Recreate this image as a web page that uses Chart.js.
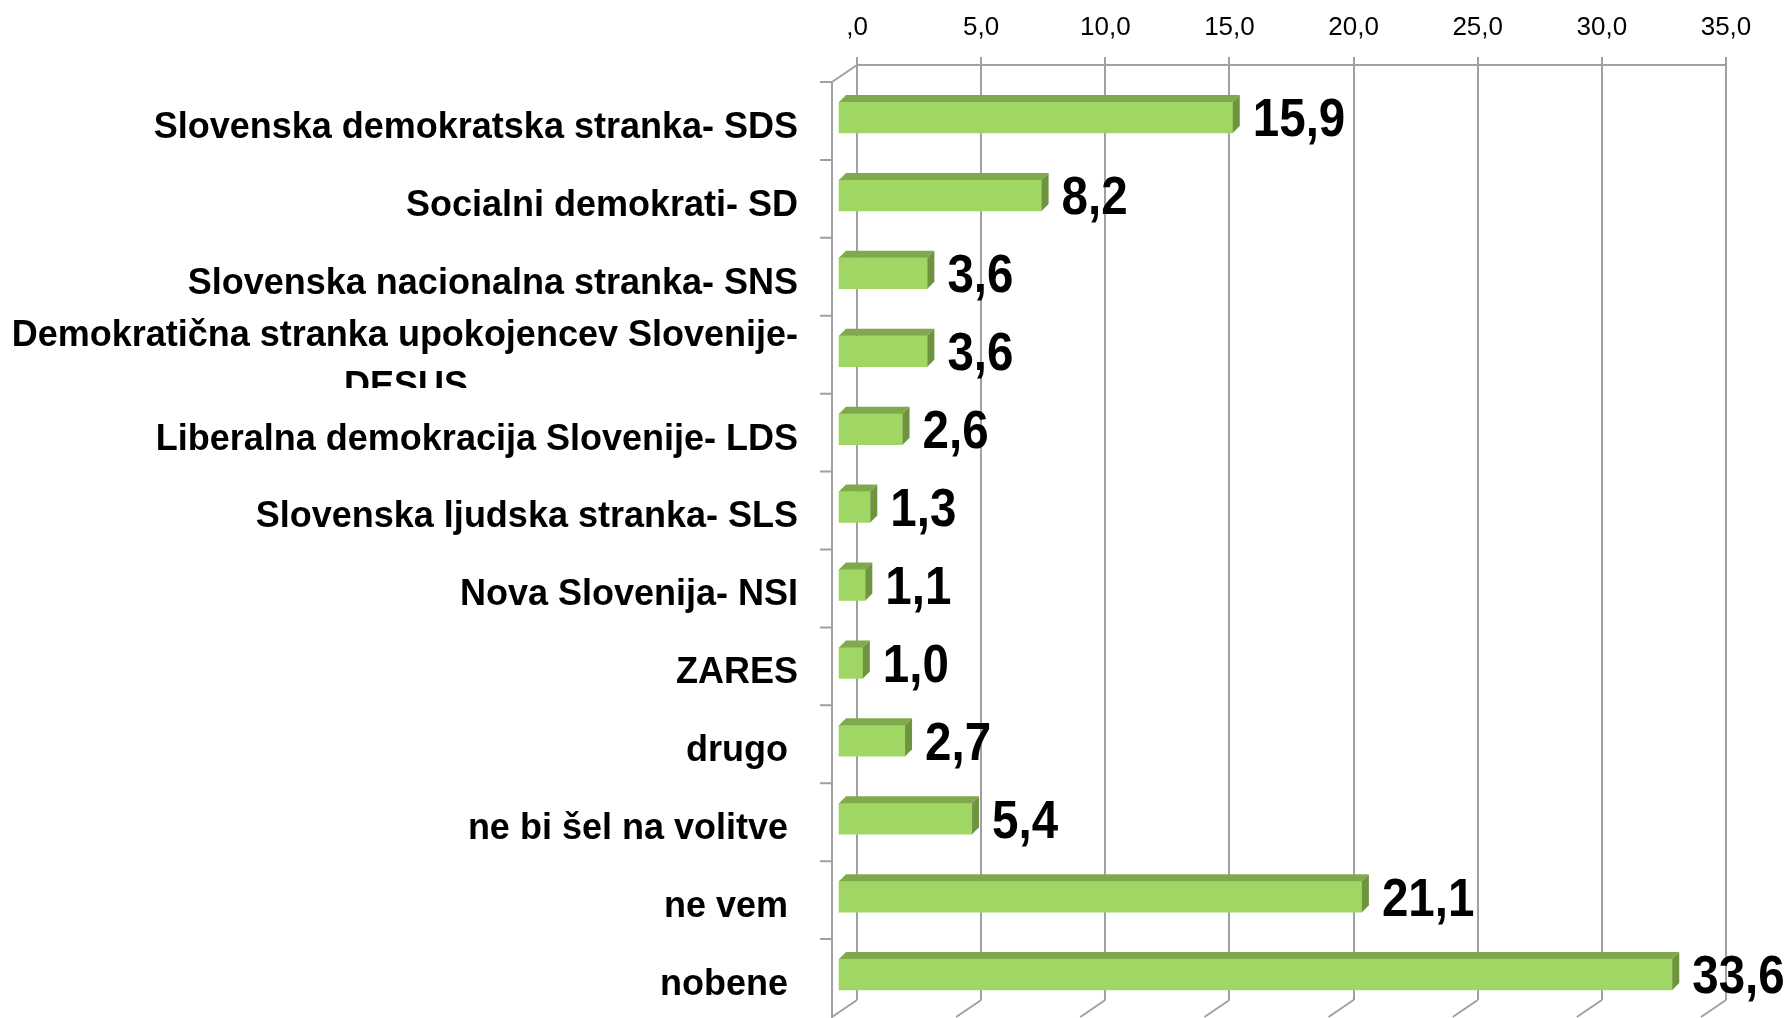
<!DOCTYPE html>
<html>
<head>
<meta charset="utf-8">
<script src="https://cdn.jsdelivr.net/npm/chart.js@4.4.0/dist/chart.umd.min.js"></script>
<style>
html, body { margin: 0; padding: 0; background: #fff; }
</style>
</head>
<body>
<canvas id="partyChart" width="1787" height="1018"></canvas>
<script>
// Stranke
const parties = [
    'Slovenska demokratska stranka- SDS',
    'Socialni demokrati- SD',
    'Slovenska nacionalna stranka- SNS',
    ['Demokratična stranka upokojencev Slovenije-', 'DESUS'],
    'Liberalna demokracija Slovenije- LDS',
    'Slovenska ljudska stranka- SLS',
    'Nova Slovenija- NSI',
    'ZARES',
    'drugo ',
    'ne bi šel na volitve ',
    'ne vem ',
    'nobene '
];
// Delež (%)
const shares = [15.9, 8.2, 3.6, 3.6, 2.6, 1.3, 1.1, 1.0, 2.7, 5.4, 21.1, 33.6];
const axisTicks = [0, 5, 10, 15, 20, 25, 30, 35];

const labelFont = 'bold 36px "Liberation Sans"';
const fmt = v => v.toFixed(1).replace('.', ',');

// Excel centrira drugo vrstico pod prvo
function centerSecondLine(lines) {
    const c = document.createElement('canvas').getContext('2d');
    c.font = labelFont;
    const gap = c.measureText(lines[0]).width - c.measureText(lines[1]).width;
    const n = Math.round(gap / 2 / c.measureText(' ').width);
    return [lines[0], lines[1] + ' '.repeat(n)];
}

// 3D izgled: stena, tla, stranice stolpcev in oznake
const depth3d = {
    id: 'depth3d',
    beforeDatasetsDraw(chart) {
        const { ctx, chartArea: a, scales: { x, y } } = chart;
        ctx.save();
        ctx.strokeStyle = '#a0a0a0';
        ctx.lineWidth = 2;
        ctx.beginPath();
        ctx.moveTo(a.left, a.top);
        ctx.lineTo(a.left - 25, a.top + 17);
        ctx.lineTo(a.left - 25, chart.height);
        x.ticks.forEach(t => {
            const px = x.getPixelForValue(t.value);
            ctx.moveTo(px, a.bottom);
            ctx.lineTo(px - 25, a.bottom + 17);
        });
        for (let i = 0; i < parties.length; i++) {
            const py = y.getPixelForValue(i - 0.5) + 17;
            ctx.moveTo(a.left - 37, py);
            ctx.lineTo(a.left - 25, py);
        }
        ctx.stroke();
        ctx.restore();
        ctx.save();
        ctx.translate(-19, 13.5);
    },
    afterDatasetsDraw(chart) {
        const ctx = chart.ctx;
        chart.getDatasetMeta(0).data.forEach((bar, i) => {
            const p = bar.getProps(['x', 'y', 'base', 'height'], true);
            const top = p.y - p.height / 2, bottom = p.y + p.height / 2;
            ctx.fillStyle = '#80a84c';
            ctx.beginPath();
            ctx.moveTo(p.base, top);
            ctx.lineTo(p.base + 7, top - 7);
            ctx.lineTo(p.x + 7, top - 7);
            ctx.lineTo(p.x, top);
            ctx.closePath();
            ctx.fill();
            ctx.fillStyle = '#6f9440';
            ctx.beginPath();
            ctx.moveTo(p.x, top);
            ctx.lineTo(p.x + 7, top - 7);
            ctx.lineTo(p.x + 7, bottom - 7);
            ctx.lineTo(p.x, bottom);
            ctx.closePath();
            ctx.fill();

            ctx.save();
            ctx.translate(p.x + 20, p.y + 4);
            ctx.scale(0.88, 1);
            ctx.fillStyle = '#000';
            ctx.font = 'bold 54px "Liberation Sans"';
            ctx.textBaseline = 'middle';
            ctx.fillText(fmt(shares[i]), 0, 0);
            ctx.restore();
        });
        ctx.restore();
    },
    afterDraw(chart) {
        // odrezan "DESUS" kot v izvirniku
        const ctx = chart.ctx;
        ctx.save();
        ctx.fillStyle = '#fff';
        ctx.fillRect(0, 388, 810, 32);
        ctx.restore();
    }
};

new Chart(document.getElementById('partyChart'), {
    type: 'bar',
    data: {
        labels: parties.map(p => Array.isArray(p) ? centerSecondLine(p) : p),
        datasets: [{
            data: shares,
            backgroundColor: '#a0d664',
            borderWidth: 0,
            barThickness: 31,
            clip: false
        }]
    },
    options: {
        indexAxis: 'y',
        responsive: false,
        animation: false,
        layout: { padding: { left: 0, right: 61, top: 0, bottom: 18 } },
        plugins: { legend: { display: false }, tooltip: { enabled: false } },
        scales: {
            x: {
                position: 'top',
                min: 0,
                max: 35,
                afterBuildTicks: s => { s.ticks = axisTicks.map(v => ({ value: v })); },
                afterFit: s => { s.height = 65; s.paddingLeft = 0; s.paddingRight = 0; },
                grid: { color: '#a0a0a0', lineWidth: 2, tickLength: 8 },
                border: { display: true, color: '#a0a0a0', width: 2 },
                ticks: {
                    padding: 14,
                    color: '#000',
                    font: { family: 'Liberation Sans', size: 26 },
                    callback: v => v === 0 ? ',0' : fmt(v)
                }
            },
            y: {
                afterFit: s => { s.width = 857; s.paddingTop = 0; s.paddingBottom = 0; },
                grid: { display: false },
                border: { display: false },
                ticks: {
                    autoSkip: false,
                    padding: 51,
                    labelOffset: 24,
                    color: '#000',
                    font: { family: 'Liberation Sans', size: 36, weight: 'bold', lineHeight: 1.4 }
                }
            }
        }
    },
    plugins: [depth3d]
});
</script>
</body>
</html>
